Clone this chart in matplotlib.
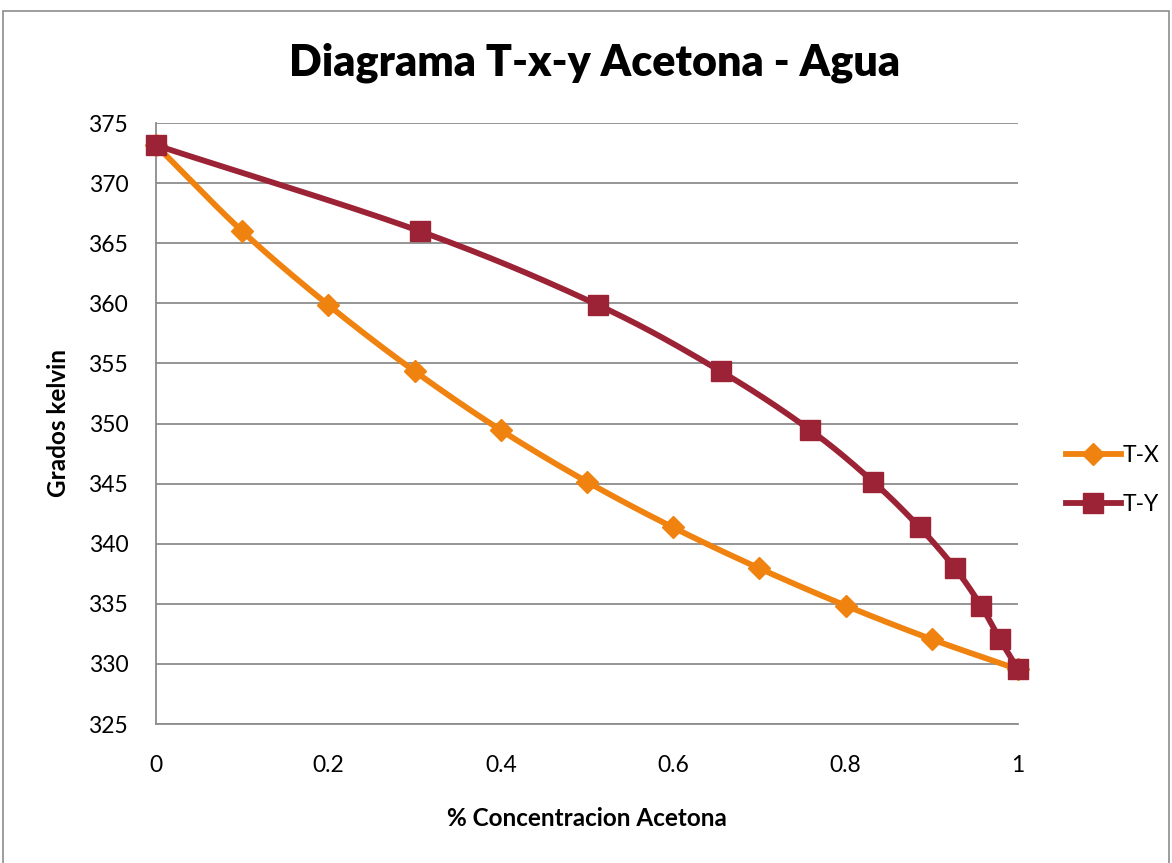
import numpy as np
import matplotlib
matplotlib.use("Agg")
import matplotlib.pyplot as plt
from matplotlib.lines import Line2D
from matplotlib.patches import Rectangle

# Liquid (T-X) and vapour (T-Y) compositions of acetone vs temperature
x_liq = [0.0, 0.1, 0.2, 0.3, 0.4, 0.5, 0.6, 0.7, 0.8, 0.9, 1.0]
y_vap = [0.0, 0.306, 0.513, 0.655, 0.759, 0.832, 0.886, 0.927, 0.957, 0.979, 1.0]
temps = [373.15, 366.0, 359.85, 354.35, 349.45, 345.15, 341.35, 337.95, 334.85, 332.05, 329.55]

series_names = ["T-X", "T-Y"]
colors = ["#F0820F", "#9B2335"]

FONT = ["Lato", "DejaVu Sans"]
plt.rcParams["font.family"] = FONT


def smooth(xs, ys, n=30):
    """Catmull-Rom curve through the points, like a smoothed line chart."""
    p = np.column_stack([xs, ys]).astype(float)
    p = np.vstack([p[0] * 2 - p[1], p, p[-1] * 2 - p[-2]])
    out = []
    t = np.linspace(0, 1, n)[:, None]
    for i in range(1, len(p) - 2):
        p0, p1, p2, p3 = p[i - 1], p[i], p[i + 1], p[i + 2]
        seg = 0.5 * ((2 * p1) + (-p0 + p2) * t
                     + (2 * p0 - 5 * p1 + 4 * p2 - p3) * t ** 2
                     + (-p0 + 3 * p1 - 3 * p2 + p3) * t ** 3)
        out.append(seg if i == 1 else seg[1:])
    out = np.vstack(out)
    return out[:, 0], out[:, 1]


fig = plt.figure(figsize=(11.72, 8.63), dpi=100)
W, H = 1172, 863
ax = fig.add_axes([156 / W, (H - 724) / H, (1018 - 156) / W, (724 - 123) / H])

# outer chart frame
fig.patches.append(Rectangle((3 / W, -0.01), (1169 - 3) / W, (H - 11) / H + 0.01,
                             transform=fig.transFigure, fill=False,
                             edgecolor="#8c8c8c", linewidth=1.2))

specs = [(x_liq, colors[0], "D", 11, 3),
         (y_vap, colors[1], "s", 15, 5)]
for xs, c, m, ms, z in specs:
    sx, sy = smooth(xs, temps)
    ax.plot(sx, sy, color=c, linewidth=4.2, solid_capstyle="round", zorder=z)
    ax.plot(xs, temps, linestyle="none", marker=m, markersize=ms,
            color=c, markeredgecolor=c, zorder=z + 1, clip_on=False)

ax.set_xlim(0, 1)
ax.set_ylim(325, 375)
ax.set_yticks(np.arange(325, 376, 5))
ax.set_xticks([0, 0.2, 0.4, 0.6, 0.8, 1.0])
ax.set_xticklabels(["0", "0.2", "0.4", "0.6", "0.8", "1"])
ax.tick_params(length=0, labelsize=16.5)
ax.tick_params(axis="y", pad=20)
ax.tick_params(axis="x", pad=22)
ax.grid(axis="y", color="#8c8c8c", linewidth=1.3)
ax.set_axisbelow(True)
for s in ["top", "right"]:
    ax.spines[s].set_visible(False)
for s in ["left", "bottom"]:
    ax.spines[s].set_color("#8c8c8c")
    ax.spines[s].set_linewidth(1.3)

fig.text(595 / W, 1 - 63 / H, "Diagrama T-x-y Acetona - Agua",
         ha="center", va="center", fontsize=31, fontweight="heavy")
fig.text(587 / W, 1 - 818 / H, "% Concentracion Acetona",
         ha="center", va="center", fontsize=17.5, fontweight="bold")
fig.text(58 / W, 1 - 423 / H, "Grados kelvin", rotation=90,
         ha="center", va="center", fontsize=17.5, fontweight="bold")

handles = [Line2D([], [], color=colors[0], linewidth=4.2, marker="D", markersize=11),
           Line2D([], [], color=colors[1], linewidth=4.2, marker="s", markersize=15)]
fig.legend(handles, series_names, loc="center left",
           bbox_to_anchor=(1045 / W, 1 - 480 / H), frameon=False,
           fontsize=16.5, handlelength=2.4, labelspacing=1.2, handletextpad=0.1)

fig.savefig("out.png", dpi=100, facecolor="white")
